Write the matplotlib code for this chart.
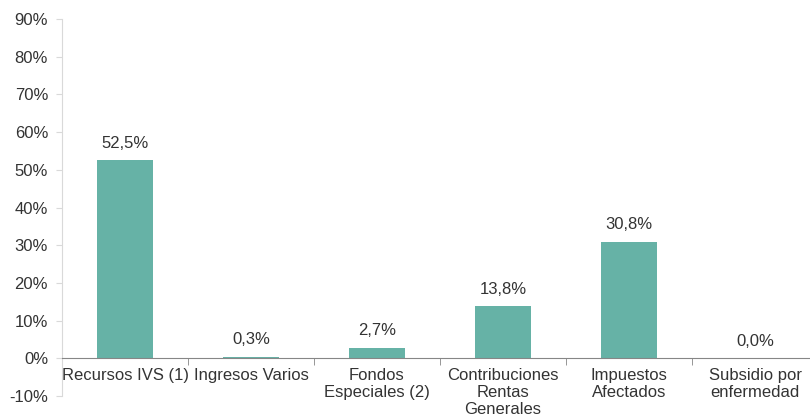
import matplotlib
matplotlib.use("Agg")
import matplotlib.pyplot as plt
from matplotlib.ticker import FixedLocator

categories = ["Recursos IVS (1)", "Ingresos Varios", "Fondos\nEspeciales (2)",
              "Contribuciones\nRentas\nGenerales", "Impuestos\nAfectados", "Subsidio por\nenfermedad"]
values = [52.5, 0.3, 2.7, 13.8, 30.8, 0.0]
value_labels = ["52,5%", "0,3%", "2,7%", "13,8%", "30,8%", "0,0%"]
y_ticks = list(range(-10, 100, 10))

plt.rcParams['font.family'] = ['Liberation Sans', 'DejaVu Sans']
text_color = "#333333"
fs = 12

fig = plt.figure(figsize=(8.1, 4.2), dpi=100)
W, H = 810, 420
ax = fig.add_axes([62/W, 24/H, 756/W, 377/H])

x = list(range(len(categories)))
ax.bar(x, values, width=0.44, color="#66B2A6")
ax.set_xlim(-0.5, len(categories) - 0.5)
ax.set_ylim(-10, 90)

for xi, v, lab in zip(x, values, value_labels):
    ax.annotate(lab, (xi, v), xytext=(0, 7), textcoords="offset points",
                ha="center", va="bottom", fontsize=fs, color=text_color)

ax.set_yticks(y_ticks)
ax.set_yticklabels([f"{t}%" for t in y_ticks], fontsize=fs, color=text_color)
ax.tick_params(axis="y", length=4, color="#d9d9d9", pad=6)

ax.spines["top"].set_visible(False)
ax.spines["right"].set_visible(False)
ax.spines["left"].set_color("#d9d9d9")
ax.spines["bottom"].set_position(("data", 0))
ax.spines["bottom"].set_color("#868686")

ax.set_xticks(x)
ax.set_xticklabels(categories, fontsize=fs, color=text_color, linespacing=1.15)
ax.xaxis.set_minor_locator(FixedLocator([i + 0.5 for i in range(-1, len(categories))]))
ax.tick_params(axis="x", which="major", length=0, pad=7)
ax.tick_params(axis="x", which="minor", length=5, color="#868686")

fig.savefig("out.png", dpi=100)
